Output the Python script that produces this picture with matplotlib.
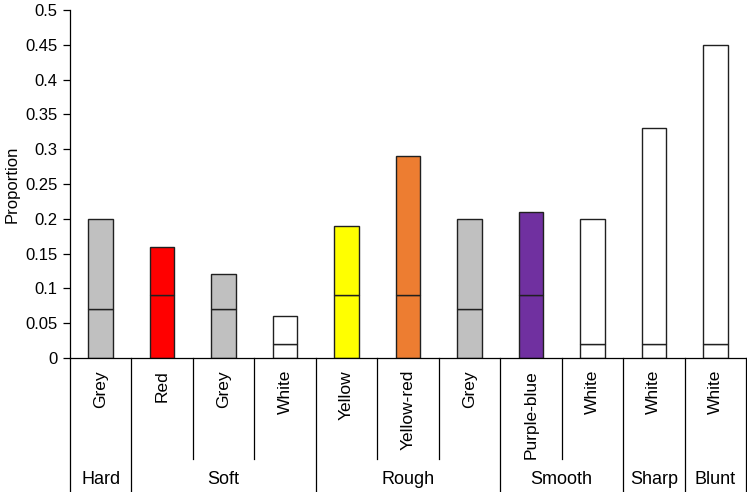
import numpy as np
import matplotlib.pyplot as plt
import matplotlib.transforms as mtransforms

# data
colour_labels = ["Grey", "Red", "Grey", "White", "Yellow", "Yellow-red",
                 "Grey", "Purple-blue", "White", "White", "White"]
groups = ["Hard", "Soft", "Rough", "Smooth", "Sharp", "Blunt"]
group_sizes = [1, 3, 3, 2, 1, 1]
lower_part = [0.07, 0.09, 0.07, 0.02, 0.09, 0.09, 0.07, 0.09, 0.02, 0.02, 0.02]
totals = [0.20, 0.16, 0.12, 0.06, 0.19, 0.29, 0.20, 0.21, 0.20, 0.33, 0.45]
fills = ["#C0C0C0", "#FF0000", "#C0C0C0", "#FFFFFF", "#FFFF00", "#ED7D31",
         "#C0C0C0", "#7030A0", "#FFFFFF", "#FFFFFF", "#FFFFFF"]

plt.rcParams['font.family'] = ['Liberation Sans', 'DejaVu Sans']

fig = plt.figure(figsize=(7.47, 4.92), dpi=100)
ax = fig.add_axes([70 / 747, (492 - 358) / 492, 676 / 747, 348 / 492])

x = np.arange(len(totals))
upper_part = np.array(totals) - np.array(lower_part)
ax.bar(x, lower_part, width=0.4, color=fills, edgecolor="#202020", linewidth=1.0)
ax.bar(x, upper_part, bottom=lower_part, width=0.4, color=fills,
       edgecolor="#202020", linewidth=1.0)

ax.set_xlim(-0.5, len(totals) - 0.5)
ax.set_ylim(0, 0.5)
ax.set_yticks(np.arange(0, 0.51, 0.05))
ax.set_yticklabels(["0", "0.05", "0.1", "0.15", "0.2", "0.25", "0.3",
                    "0.35", "0.4", "0.45", "0.5"], fontsize=12)
ax.set_ylabel("Proportion", fontsize=12, labelpad=4)
ax.tick_params(axis="y", direction="out", length=5, width=0.9, pad=4)
ax.set_xticks([])
for s in ["top", "right"]:
    ax.spines[s].set_visible(False)
ax.spines["left"].set_linewidth(0.9)
ax.spines["bottom"].set_linewidth(0.9)

# category axis below the plot (in pixel offsets from axis line)
trans = mtransforms.blended_transform_factory(ax.transData, ax.transAxes)
axh = 348.0  # axes height in px
inner_depth = -(459 - 358) / axh
outer_depth = -(492 - 358) / axh

for i, lab in enumerate(colour_labels):
    ax.text(x[i], -12 / axh, lab, transform=trans, rotation=90,
            ha="center", va="top", fontsize=12.5)

# separators
boundaries = set([-0.5])
pos = -0.5
for n in group_sizes:
    pos += n
    boundaries.add(pos)
for b in np.arange(-0.5, len(totals), 1.0):
    depth = outer_depth if b in boundaries else inner_depth
    ax.plot([b, b], [0, depth], transform=trans, color="black",
            linewidth=0.9, clip_on=False)

start = 0
for g, n in zip(groups, group_sizes):
    centre = start + (n - 1) / 2
    ax.text(centre, -(480 - 358) / axh, g, transform=trans,
            ha="center", va="center", fontsize=13)
    start += n

fig.savefig("out.png", dpi=100)
